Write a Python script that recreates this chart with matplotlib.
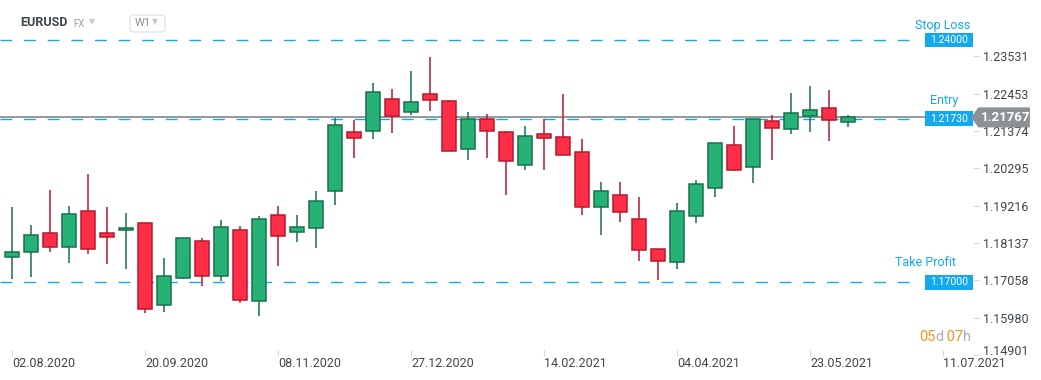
#!/usr/bin/env python

""" Weekly EURUSD candles with stop loss / entry / take profit levels """

import numpy as np
import matplotlib
matplotlib.use('Agg')
import matplotlib.pyplot as plt
import matplotlib.transforms as mtransforms
from matplotlib.patches import Rectangle, Polygon, FancyBboxPatch

#----- Data ---------------------------------------------

symbol = 'EURUSD'
timeframe = 'W1'

# weekly candles, first one is the week of 02.08.2020
opens = [1.17723, 1.17867, 1.18417, 1.18012, 1.19053, 1.18417, 1.18503, 1.18706, 1.16335, 1.17116,
         1.18185, 1.17173, 1.18503, 1.16451, 1.18937, 1.18446, 1.18561, 1.19631, 1.21337, 1.21365,
         1.22291, 1.21915, 1.22435, 1.22233, 1.20845, 1.21712, 1.21337, 1.20383, 1.21279, 1.21192,
         1.20758, 1.19168, 1.19515, 1.18821, 1.17954, 1.17578, 1.18908, 1.19718, 1.20961, 1.20325,
         1.21655, 1.21423, 1.21799, 1.22030, 1.21626]
closes = [1.17867, 1.18359, 1.18012, 1.18966, 1.17954, 1.18301, 1.18561, 1.16219, 1.17173, 1.18272,
          1.17173, 1.18590, 1.16480, 1.18821, 1.18330, 1.18590, 1.19342, 1.21539, 1.21163, 1.22493,
          1.21816, 1.22204, 1.22262, 1.20787, 1.21712, 1.21365, 1.20498, 1.21221, 1.21163, 1.20672,
          1.19168, 1.19631, 1.19024, 1.17925, 1.17607, 1.19053, 1.19833, 1.21019, 1.20238, 1.21712,
          1.21452, 1.21886, 1.21973, 1.21683, 1.21767]
highs = [1.19168, 1.18648, 1.19668, 1.19206, 1.20131, 1.19168, 1.19003, 1.18720, 1.17703, 1.18280,
         1.18272, 1.18801, 1.18628, 1.18917, 1.19206, 1.18946, 1.19631, 1.21750, 1.21692, 1.22762,
         1.22588, 1.23109, 1.23513, 1.22270, 1.21923, 1.21866, 1.21365, 1.21519, 1.21712, 1.22444,
         1.21134, 1.19891, 1.19891, 1.19457, 1.17975, 1.19284, 1.19949, 1.21035, 1.21510, 1.21725,
         1.21828, 1.22464, 1.22675, 1.22551, 1.21828]
lows = [1.17087, 1.17145, 1.17885, 1.17567, 1.17827, 1.17538, 1.17393, 1.16121, 1.16150, 1.17087,
        1.16902, 1.17046, 1.16410, 1.16026, 1.17480, 1.18156, 1.18000, 1.19243, 1.20602, 1.21152,
        1.21325, 1.21845, 1.21961, 1.20787, 1.20544, 1.20602, 1.19533, 1.20238, 1.20255, 1.20672,
        1.18954, 1.18376, 1.18752, 1.17624, 1.17075, 1.17393, 1.18723, 1.19457, 1.20209, 1.19879,
        1.20544, 1.21296, 1.21354, 1.21076, 1.21481]

date_ticks = [0, 7, 14, 21, 28, 35, 42, 49]
date_labels = ['02.08.2020', '20.09.2020', '08.11.2020', '27.12.2020',
               '14.02.2021', '04.04.2021', '23.05.2021', '11.07.2021']

price_ticks = [1.14901, 1.15980, 1.17058, 1.18137, 1.19216, 1.20295, 1.21374, 1.22453, 1.23531]
price_labels = ['1.14901', '1.15980', '1.17058', '1.18137', '1.19216',
                '1.20295', '1.21374', '1.22453', '1.23531']

levels = [('Stop Loss', 1.24000, '1.24000'),
          ('Entry', 1.21730, '1.21730'),
          ('Take Profit', 1.17000, '1.17000')]
last_price = 1.21767
countdown = [('05', 'orange'), ('d', 'gray'), (' 07', 'orange'), ('h', 'gray')]

#----- Style --------------------------------------------

plt.rcParams['font.family'] = ['Roboto', 'DejaVu Sans']

UP_FILL, UP_EDGE = '#26b277', '#17714b'
DN_FILL, DN_EDGE = '#ff2e47', '#b41a2d'
BLUE = '#12a9ef'
TEXT = '#3f464d'
GRAY = '#8c9196'

#----- Create the plot ----------------------------------

W, H = 1041, 380
fig = plt.figure(figsize=(W / 100, H / 100), dpi=100)
ax = fig.add_axes([0, (H - 356) / H, 973 / W, 356 / H])
for s in ax.spines.values():
    s.set_visible(False)

o = np.array(opens)
c = np.array(closes)
hi = np.array(highs)
lo = np.array(lows)
x = np.arange(len(o))
up = c >= o

ax.vlines(x[up], lo[up], hi[up], color=UP_EDGE, lw=1.1, zorder=3)
ax.vlines(x[~up], lo[~up], hi[~up], color=DN_EDGE, lw=1.1, zorder=3)
body_bot = np.minimum(o, c)
body_h = np.maximum(np.abs(c - o), 0.0004)
ax.bar(x[up], body_h[up], bottom=body_bot[up], width=0.74,
       color=UP_FILL, edgecolor=UP_EDGE, linewidth=1.1, zorder=4)
ax.bar(x[~up], body_h[~up], bottom=body_bot[~up], width=0.74,
       color=DN_FILL, edgecolor=DN_EDGE, linewidth=1.1, zorder=4)

ax.set_xlim(-0.63, 50.58)
ax.set_ylim(1.14869, 1.25161)

# current price line
ax.axhline(last_price, color=GRAY, lw=1.3, zorder=2)

# level lines with their boxes
trans = mtransforms.blended_transform_factory(ax.transAxes, ax.transData)
box_h = 0.0042
label_pos = {'Stop Loss': (0.969, 0.0043),
             'Entry': (0.970, 0.0053),
             'Take Profit': (0.951, 0.0058)}
for name, val, txt in levels:
    ax.axhline(val, xmin=0, xmax=0.947, color=BLUE, lw=1.0, dashes=(8.5, 8.5), zorder=2)
    ax.add_patch(Rectangle((0.9505, val - box_h / 2), 0.0495, box_h, transform=trans,
                           facecolor=BLUE, edgecolor='none', zorder=6))
    ax.text(0.9752, val, txt, transform=trans, ha='center', va='center',
            color='white', fontsize=7.5, zorder=7)
    lx, dy = label_pos[name]
    ax.text(lx, val + dy, name, transform=trans, ha='center', va='center',
            color=BLUE, fontsize=9, zorder=7)

# last price tag on the axis
tag_h = 0.0029
ax.add_patch(Polygon([(0.998, last_price), (1.0055, last_price + tag_h),
                      (1.0585, last_price + tag_h), (1.0585, last_price - tag_h),
                      (1.0055, last_price - tag_h)], closed=True, transform=trans,
                     facecolor=GRAY, edgecolor='none', clip_on=False, zorder=8))
ax.text(1.033, last_price, '%.5f' % last_price, transform=trans, ha='center', va='center',
        color='white', fontsize=9.5, fontweight='bold', clip_on=False, zorder=9)

# axes ticks
ax.yaxis.tick_right()
ax.set_yticks(price_ticks)
ax.set_yticklabels(price_labels)
ax.tick_params(axis='y', length=4, width=0.8, color='#d5d8db', labelcolor=TEXT,
               labelsize=9, pad=3)
# lowest price label sits a bit higher so it clears the date labels
low_lbl = ax.get_yticklabels()[0]
low_lbl.set_transform(low_lbl.get_transform() +
                      mtransforms.ScaledTranslation(0, 5 / 100, fig.dpi_scale_trans))
ax.set_xticks(date_ticks)
ax.set_xticklabels(date_labels, ha='left')
ax.tick_params(axis='x', direction='in', length=4, width=0.8, color='#d5d8db',
               labelcolor=TEXT, labelsize=9, pad=1)

# countdown in the bottom right corner
colors = {'orange': '#f7941d', 'gray': '#a9aeb3'}
t = ax.text(0.9445, 0.053, countdown[0][0], transform=ax.transAxes, ha='left', va='center',
            color=colors[countdown[0][1]], fontsize=10.5)
for part, col in countdown[1:]:
    t = ax.annotate(part, xy=(1, 0), xycoords=t, ha='left', va='bottom',
                    color=colors[col], fontsize=10.5)

#----- Header -------------------------------------------

fig.text(20 / W, 1 - 23 / H, symbol, color=TEXT, fontsize=9, fontweight='bold', va='center')
fig.text(73 / W, 1 - 24 / H, 'FX', color='#9aa3ab', fontsize=7, va='center')
fig.text(89 / W, 1 - 22 / H, '\u25bc', color='#c5cace', fontsize=5.5, va='center',
         family=['DejaVu Sans'])
fig.patches.append(FancyBboxPatch((130 / W, 1 - 32 / H), 35 / W, 17 / H,
                                  boxstyle='round,pad=0,rounding_size=0.006',
                                  transform=fig.transFigure, facecolor='white',
                                  edgecolor='#dfe3e6', linewidth=0.9))
fig.text(135 / W, 1 - 23 / H, timeframe, color='#8a9299', fontsize=8, va='center')
fig.text(152 / W, 1 - 22 / H, '\u25bc', color='#c5cace', fontsize=5.5, va='center',
         family=['DejaVu Sans'])

plt.savefig('out.png', dpi=100)
